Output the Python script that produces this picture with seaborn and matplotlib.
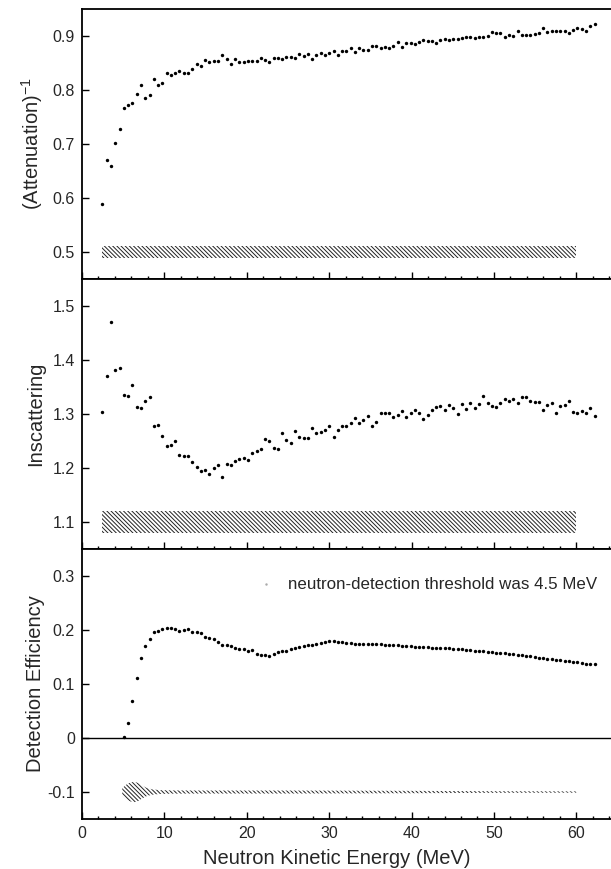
import numpy as np
import pandas as pd
import matplotlib
matplotlib.use("Agg")
import matplotlib.pyplot as plt
import seaborn as sns
from matplotlib.lines import Line2D
from matplotlib.ticker import MultipleLocator, FixedLocator, FixedFormatter

# ---------------- data ----------------
energy_pts = np.linspace(2.5, 62.2, 116)

attenuation_inv = [
    0.589, 0.670, 0.659, 0.701, 0.728, 0.766, 0.773, 0.776, 0.792, 0.810,
    0.786, 0.791, 0.820, 0.810, 0.813, 0.831, 0.828, 0.831, 0.836, 0.831,
    0.832, 0.839, 0.849, 0.845, 0.855, 0.851, 0.853, 0.853, 0.865, 0.857,
    0.849, 0.857, 0.852, 0.852, 0.853, 0.853, 0.854, 0.859, 0.855, 0.852,
    0.859, 0.860, 0.858, 0.862, 0.861, 0.860, 0.866, 0.863, 0.866, 0.858,
    0.865, 0.868, 0.864, 0.869, 0.872, 0.865, 0.872, 0.872, 0.878, 0.870,
    0.878, 0.875, 0.874, 0.881, 0.881, 0.878, 0.880, 0.878, 0.881, 0.889,
    0.879, 0.888, 0.887, 0.885, 0.889, 0.893, 0.890, 0.890, 0.888, 0.892,
    0.894, 0.892, 0.894, 0.895, 0.896, 0.899, 0.898, 0.896, 0.898, 0.899,
    0.900, 0.907, 0.906, 0.905, 0.898, 0.902, 0.900, 0.909, 0.902, 0.902,
    0.902, 0.904, 0.906, 0.914, 0.907, 0.909, 0.909, 0.909, 0.910, 0.906,
    0.912, 0.915, 0.913, 0.909, 0.918, 0.922,
]

inscattering = [
    1.304, 1.371, 1.471, 1.381, 1.385, 1.336, 1.334, 1.353, 1.313, 1.312,
    1.324, 1.331, 1.277, 1.280, 1.259, 1.240, 1.242, 1.250, 1.224, 1.222,
    1.223, 1.212, 1.201, 1.194, 1.197, 1.189, 1.200, 1.206, 1.184, 1.207,
    1.206, 1.213, 1.216, 1.219, 1.214, 1.227, 1.231, 1.236, 1.254, 1.250,
    1.238, 1.236, 1.264, 1.251, 1.247, 1.269, 1.257, 1.255, 1.256, 1.275,
    1.264, 1.267, 1.271, 1.277, 1.257, 1.270, 1.278, 1.277, 1.283, 1.293,
    1.283, 1.289, 1.297, 1.277, 1.285, 1.301, 1.301, 1.301, 1.295, 1.299,
    1.306, 1.294, 1.302, 1.307, 1.301, 1.291, 1.299, 1.307, 1.313, 1.315,
    1.307, 1.317, 1.312, 1.300, 1.319, 1.310, 1.321, 1.312, 1.319, 1.334,
    1.321, 1.314, 1.313, 1.321, 1.327, 1.324, 1.327, 1.320, 1.331, 1.331,
    1.324, 1.322, 1.322, 1.307, 1.317, 1.320, 1.302, 1.314, 1.317, 1.325,
    1.304, 1.302, 1.306, 1.301, 1.311, 1.296,
]

efficiency_energy = energy_pts[5:]
efficiency = [
    0.001, 0.027, 0.069, 0.111, 0.148, 0.170, 0.184, 0.196, 0.199, 0.201,
    0.203, 0.204, 0.201, 0.199, 0.200, 0.201, 0.197, 0.197, 0.194, 0.188,
    0.186, 0.183, 0.178, 0.173, 0.172, 0.170, 0.167, 0.165, 0.164, 0.161,
    0.163, 0.156, 0.154, 0.153, 0.152, 0.156, 0.159, 0.161, 0.162, 0.164,
    0.167, 0.169, 0.170, 0.172, 0.173, 0.175, 0.176, 0.177, 0.180, 0.179,
    0.178, 0.177,
    0.176, 0.176, 0.175, 0.175, 0.175, 0.174, 0.174, 0.174, 0.174, 0.173,
    0.173, 0.172, 0.172, 0.171, 0.170, 0.170, 0.169, 0.169, 0.168, 0.168,
    0.167, 0.167, 0.167, 0.166, 0.166, 0.165, 0.165, 0.164, 0.163, 0.163,
    0.162, 0.162, 0.161, 0.160, 0.159, 0.158, 0.157, 0.157, 0.156, 0.155,
    0.154, 0.153, 0.152, 0.151, 0.150, 0.149, 0.148, 0.147, 0.146, 0.145,
    0.144, 0.143, 0.142, 0.141, 0.140, 0.139, 0.138, 0.137, 0.137,
]

# systematic-error bands
band_energy = [2.5, 60.0]
att_band_center, att_band_half = 0.5, 0.011
ins_band_center, ins_band_half = 1.1, 0.020
eff_band_energy = [4.9, 5.3, 5.8, 6.3, 6.8, 7.3, 7.8, 8.5, 9.5, 11.0, 15.0, 25.0, 40.0, 50.0, 60.0]
eff_band_half = [0.007, 0.013, 0.017, 0.019, 0.017, 0.012, 0.008, 0.005, 0.0035, 0.003, 0.0028, 0.0028, 0.0022, 0.0015, 0.0012]
eff_band_center = -0.1

panel_ylabels = [r"(Attenuation)$^{-1}$", "Inscattering", "Detection Efficiency"]
panel_ylims = [(0.45, 0.95), (1.05, 1.55), (-0.15, 0.35)]
panel_yticks = [[0.5, 0.6, 0.7, 0.8, 0.9], [1.1, 1.2, 1.3, 1.4, 1.5], [-0.1, 0.0, 0.1, 0.2, 0.3]]
panel_yticklabels = [["0.5", "0.6", "0.7", "0.8", "0.9"],
                     ["1.1", "1.2", "1.3", "1.4", "1.5"],
                     ["-0.1", "0", "0.1", "0.2", "0.3"]]
xticks = [0, 10, 20, 30, 40, 50, 60]
xticklabels = ["0", "10", "20", "30", "40", "50", "60"]
xlabel = "Neutron Kinetic Energy (MeV)"
note = "neutron-detection threshold was 4.5 MeV"

# ---------------- style ----------------
sns.set_style("ticks")
plt.rcParams["font.family"] = ["Liberation Sans", "DejaVu Sans"]
plt.rcParams["mathtext.default"] = "regular"
plt.rcParams["hatch.linewidth"] = 0.7
plt.rcParams["axes.edgecolor"] = "black"

fig = plt.figure(figsize=(6.11, 8.69), dpi=100)
gs = fig.add_gridspec(3, 1, left=0.134, right=1.0, top=0.9896, bottom=0.0575, hspace=0)
axes = [fig.add_subplot(gs[0])]
axes.append(fig.add_subplot(gs[1], sharex=axes[0]))
axes.append(fig.add_subplot(gs[2], sharex=axes[0]))

df_att = pd.DataFrame({"E": energy_pts, "v": attenuation_inv})
df_ins = pd.DataFrame({"E": energy_pts, "v": inscattering})
df_eff = pd.DataFrame({"E": efficiency_energy, "v": efficiency})

hatch = "\\" * 8
ax = axes[0]
ax.fill_between(band_energy, att_band_center - att_band_half, att_band_center + att_band_half,
                facecolor="none", edgecolor="#222222", linewidth=0, hatch=hatch)
sns.scatterplot(data=df_att, x="E", y="v", ax=ax, s=6, color="black", linewidth=0)

ax = axes[1]
ax.fill_between(band_energy, ins_band_center - ins_band_half, ins_band_center + ins_band_half,
                facecolor="none", edgecolor="#222222", linewidth=0, hatch=hatch)
sns.scatterplot(data=df_ins, x="E", y="v", ax=ax, s=6, color="black", linewidth=0)

ax = axes[2]
ax.axhline(0, color="black", lw=1.0, zorder=1)
ebh = np.array(eff_band_half)
ax.fill_between(eff_band_energy, eff_band_center - ebh, eff_band_center + ebh,
                facecolor="none", edgecolor="#222222", linewidth=0, hatch=hatch)
sns.scatterplot(data=df_eff, x="E", y="v", ax=ax, s=6, color="black", linewidth=0)
handle = Line2D([], [], marker=".", markersize=1.5, color="#aaaaaa", linestyle="none")
ax.legend([handle], [note], loc="center right", bbox_to_anchor=(0.9735, 0.867),
          frameon=False, fontsize=12.2, borderpad=0, borderaxespad=0,
          handlelength=1.0, handletextpad=0.8)

for i, ax in enumerate(axes):
    ax.set_xlim(0, 64.2)
    ax.set_ylim(*panel_ylims[i])
    ax.yaxis.set_major_locator(FixedLocator(panel_yticks[i]))
    ax.yaxis.set_major_formatter(FixedFormatter(panel_yticklabels[i]))
    ax.xaxis.set_major_locator(MultipleLocator(10))
    ax.xaxis.set_minor_locator(MultipleLocator(2))
    ax.tick_params(axis="both", which="major", direction="in", length=5, width=1,
                   labelsize=11.5, color="black", pad=5)
    ax.tick_params(axis="x", which="minor", direction="in", length=2.5, width=1, color="black")
    ax.tick_params(top=False, right=False)
    ax.spines["right"].set_visible(False)
    for s in ["left", "top", "bottom"]:
        ax.spines[s].set_linewidth(1.3)
    ax.set_ylabel(panel_ylabels[i], fontsize=14.5)
    ax.yaxis.set_label_coords(-0.07, 0.5)
    ax.set_xlabel("")
    if i < 2:
        ax.tick_params(axis="x", labelbottom=False)

axes[2].xaxis.set_major_locator(FixedLocator(xticks))
axes[2].xaxis.set_major_formatter(FixedFormatter(xticklabels))
axes[2].set_xlabel(xlabel, fontsize=14.5)
axes[2].xaxis.set_label_coords(0.482, -0.11)

fig.savefig("out.png", dpi=100)
